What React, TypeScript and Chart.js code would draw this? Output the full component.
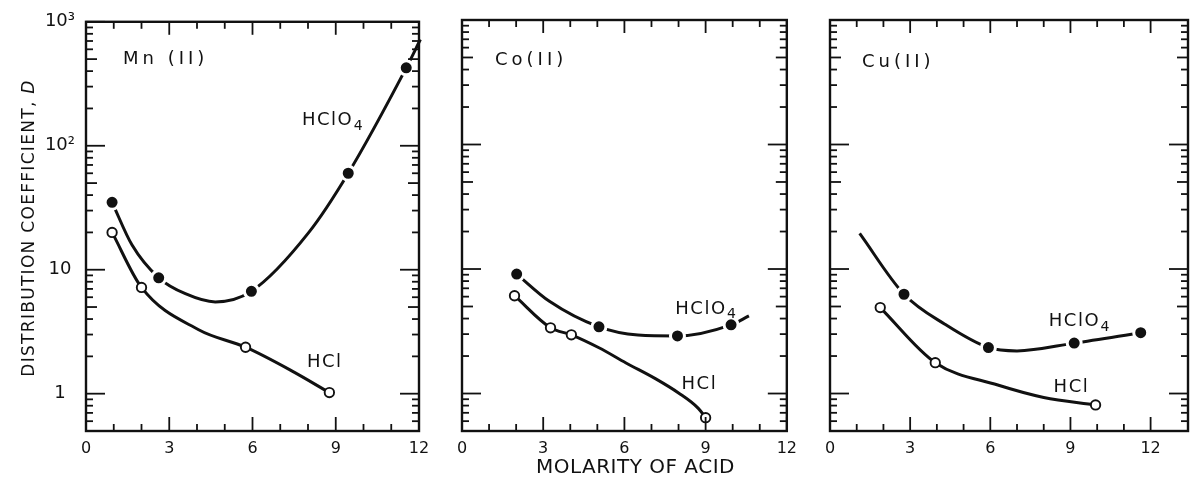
import React, { useEffect, useRef } from 'react';
import { Chart, registerables } from 'chart.js';

Chart.register(...registerables);

const FONT = '"DejaVu Sans", "Liberation Sans", sans-serif';
const INK = '#111';
const H = 482;

// ---- axis ticks ----
const xTickValues = [0, 1, 2, 3, 4, 5, 6, 7, 8, 9, 10, 11, 12];
const xLabeledTicks = [0, 3, 6, 9, 12];
const yTickValues = [0.5, 0.6, 0.7, 0.8, 0.9, 1, 2, 3, 4, 5, 6, 7, 8, 9, 10, 20, 30, 40, 50, 60, 70, 80, 90,
  100, 200, 300, 400, 500, 600, 700, 800, 900, 1000];
const yLabeledTicks = [1, 10, 100, 1000];
const yTickLabels = ['1', '10', '10²', '10³'];

// ---- texts ----
const panelNames = ['Mn (II)', 'Co(II)', 'Cu(II)'];
const acidLabels = ['HClO4', 'HCl'];
const yTitleMain = 'DISTRIBUTION COEFFICIENT, ';
const yTitleSymbol = 'D';
const xTitle = 'MOLARITY OF ACID';

// ---- Mn(II) ----
const mnHclo4X = [0.94, 2.62, 5.96, 9.45, 11.54];
const mnHclo4Y = [35, 8.6, 6.7, 60, 425];
const mnHclo4CurveX = [0.94, 1.66, 2.62, 3.58, 4.66, 5.96, 8.03, 9.45, 11.54, 12.05];
const mnHclo4CurveY = [35, 15.8, 8.6, 6.4, 5.5, 6.7, 20, 60, 425, 720];
const mnHclX = [0.94, 2.0, 5.75, 8.77];
const mnHclY = [20, 7.2, 2.37, 1.02];
const mnHclCurveX = [0.94, 2.0, 4.06, 5.75, 7.43, 8.77];
const mnHclCurveY = [20, 7.2, 3.28, 2.37, 1.52, 1.02];

// ---- Co(II) ----
const coHclo4X = [2.02, 5.06, 7.96, 9.94];
const coHclo4Y = [9.1, 3.43, 2.9, 3.56];
const coHclo4CurveX = [2.02, 3.23, 5.06, 6.5, 7.96, 9.94, 10.6];
const coHclo4CurveY = [9.1, 5.5, 3.43, 2.95, 2.9, 3.56, 4.2];
const coHclX = [1.94, 3.27, 4.04, 9.0];
const coHclY = [6.1, 3.37, 2.96, 0.64];
const coHclCurveX = [1.94, 3.27, 4.04, 5.06, 6.06, 7.16, 8.0, 8.73, 9.0];
const coHclCurveY = [6.1, 3.37, 2.96, 2.33, 1.76, 1.31, 1.01, 0.76, 0.64];

// ---- Cu(II) ----
const cuHclo4X = [2.77, 5.93, 9.14, 11.63];
const cuHclo4Y = [6.27, 2.34, 2.54, 3.08];
const cuHclo4CurveX = [1.11, 2.77, 4.3, 5.93, 7.0, 9.14, 11.63];
const cuHclo4CurveY = [19.3, 6.27, 3.6, 2.34, 2.2, 2.54, 3.08];
const cuHclX = [1.88, 3.94, 9.94];
const cuHclY = [4.9, 1.77, 0.81];
const cuHclCurveX = [1.88, 3.94, 6.28, 8.0, 9.94];
const cuHclCurveY = [4.9, 1.77, 1.17, 0.93, 0.81];

type PanelCfg = {
  name: string;
  hclo4X: number[]; hclo4Y: number[]; hclo4CurveX: number[]; hclo4CurveY: number[];
  hclX: number[]; hclY: number[]; hclCurveX: number[]; hclCurveY: number[];
  xMax: number;
  left: number; width: number; padLeft: number; padRight: number; yAxisWidth: number;
  showYLabels: boolean;
  nameOffset: { dx: number; dy: number };
  hclo4Label: { x: number; y: number };
  hclLabel: { x: number; y: number };
  yTitle: boolean; xTitle: boolean;
};

const panels: PanelCfg[] = [
  {
    name: panelNames[0],
    hclo4X: mnHclo4X, hclo4Y: mnHclo4Y, hclo4CurveX: mnHclo4CurveX, hclo4CurveY: mnHclo4CurveY,
    hclX: mnHclX, hclY: mnHclY, hclCurveX: mnHclCurveX, hclCurveY: mnHclCurveY,
    xMax: 12, left: 0, width: 440, padLeft: 0, padRight: 21, yAxisWidth: 86, showYLabels: true,
    nameOffset: { dx: 37, dy: 38 }, hclo4Label: { x: 7.78, y: 159 }, hclLabel: { x: 7.96, y: 1.8 },
    yTitle: true, xTitle: false,
  },
  {
    name: panelNames[1],
    hclo4X: coHclo4X, hclo4Y: coHclo4Y, hclo4CurveX: coHclo4CurveX, hclo4CurveY: coHclo4CurveY,
    hclX: coHclX, hclY: coHclY, hclCurveX: coHclCurveX, hclCurveY: coHclCurveY,
    xMax: 12, left: 440, width: 365, padLeft: 22, padRight: 16, yAxisWidth: 0, showYLabels: false,
    nameOffset: { dx: 33, dy: 40 }, hclo4Label: { x: 7.88, y: 4.75 }, hclLabel: { x: 8.11, y: 1.19 },
    yTitle: false, xTitle: true,
  },
  {
    name: panelNames[2],
    hclo4X: cuHclo4X, hclo4Y: cuHclo4Y, hclo4CurveX: cuHclo4CurveX, hclo4CurveY: cuHclo4CurveY,
    hclX: cuHclX, hclY: cuHclY, hclCurveX: cuHclCurveX, hclCurveY: cuHclCurveY,
    xMax: 13.4, left: 805, width: 393, padLeft: 25, padRight: 5, yAxisWidth: 0, showYLabels: false,
    nameOffset: { dx: 32, dy: 42 }, hclo4Label: { x: 8.19, y: 3.77 }, hclLabel: { x: 8.37, y: 1.12 },
    yTitle: false, xTitle: false,
  },
];

const pts = (xs: number[], ys: number[]) => xs.map((x, i) => ({ x, y: ys[i] }));

function drawChem(ctx: CanvasRenderingContext2D, text: string, x: number, y: number, size: number, spacing: number) {
  const m = text.match(/^(.*?)(\d+)$/);
  const main = m ? m[1] : text;
  const sub = m ? m[2] : '';
  (ctx as any).letterSpacing = spacing + 'px';
  ctx.font = `${size}px ${FONT}`;
  ctx.textAlign = 'left';
  ctx.textBaseline = 'middle';
  ctx.fillText(main, x, y);
  if (sub) {
    const w = ctx.measureText(main).width;
    ctx.font = `${Math.round(size * 0.75)}px ${FONT}`;
    ctx.fillText(sub, x + w + 0.5, y + size * 0.3);
  }
}

function buildConfig(p: PanelCfg): any {
  const frameTicks = {
    id: 'frameTicks',
    afterDatasetsDraw(chart: any) {
      const { ctx, chartArea: a } = chart;
      const xs = chart.scales.x;
      const ys = chart.scales.y;
      ctx.save();
      ctx.strokeStyle = INK;
      ctx.lineWidth = 1.8;
      const seg = (x1: number, y1: number, x2: number, y2: number) => {
        ctx.beginPath(); ctx.moveTo(x1, y1); ctx.lineTo(x2, y2); ctx.stroke();
      };
      for (const v of xTickValues) {
        const px = xs.getPixelForValue(v);
        const major = xLabeledTicks.includes(v);
        seg(px, a.bottom, px, a.bottom - (major ? 14 : 7));
        seg(px, a.top, px, a.top + (major ? 13 : 7));
      }
      for (const v of yTickValues) {
        const py = ys.getPixelForValue(v);
        const sig = v / Math.pow(10, Math.floor(Math.log10(v) + 1e-9));
        const len = Math.abs(sig - 1) < 1e-6 ? 19 : Math.abs(sig - 5) < 1e-6 ? 11 : 7;
        seg(a.left, py, a.left + len, py);
        seg(a.right, py, a.right - len, py);
      }
      ctx.lineWidth = 2.4;
      ctx.strokeRect(a.left, a.top, a.right - a.left, a.bottom - a.top);
      ctx.restore();
    },
  };

  const texts = {
    id: 'texts',
    afterDraw(chart: any) {
      const { ctx, chartArea: a } = chart;
      const xs = chart.scales.x;
      const ys = chart.scales.y;
      ctx.save();
      ctx.fillStyle = INK;
      // panel name
      (ctx as any).letterSpacing = '4px';
      ctx.font = `18px ${FONT}`;
      ctx.textAlign = 'left';
      ctx.textBaseline = 'middle';
      ctx.fillText(p.name, a.left + p.nameOffset.dx, a.top + p.nameOffset.dy);
      // series labels
      drawChem(ctx, acidLabels[0], xs.getPixelForValue(p.hclo4Label.x), ys.getPixelForValue(p.hclo4Label.y), 18, 1.5);
      drawChem(ctx, acidLabels[1], xs.getPixelForValue(p.hclLabel.x), ys.getPixelForValue(p.hclLabel.y), 18, 1.5);
      if (p.yTitle) {
        ctx.save();
        ctx.translate(30, 228);
        ctx.rotate(-Math.PI / 2);
        (ctx as any).letterSpacing = '1.3px';
        ctx.font = `17px ${FONT}`;
        const w1 = ctx.measureText(yTitleMain).width;
        ctx.font = `italic 17px ${FONT}`;
        const w2 = ctx.measureText(yTitleSymbol).width;
        const start = -(w1 + w2) / 2;
        ctx.textAlign = 'left';
        ctx.textBaseline = 'middle';
        ctx.font = `17px ${FONT}`;
        ctx.fillText(yTitleMain, start, 0);
        ctx.font = `italic 17px ${FONT}`;
        ctx.fillText(yTitleSymbol, start + w1, 0);
        ctx.restore();
      }
      if (p.xTitle) {
        (ctx as any).letterSpacing = '0.5px';
        ctx.font = `20px ${FONT}`;
        ctx.textAlign = 'center';
        ctx.textBaseline = 'middle';
        ctx.fillText(xTitle, (a.left + a.right) / 2 + 11, 468);
      }
      ctx.restore();
    },
  };

  const curve = (label: string, xs: number[], ys: number[]) => ({
    label, data: pts(xs, ys), borderColor: INK, borderWidth: 3, pointRadius: 0,
    cubicInterpolationMode: 'monotone', clip: false, fill: false,
  });

  return {
    type: 'line',
    data: {
      datasets: [
        {
          label: acidLabels[0] + ' points', data: pts(p.hclo4X, p.hclo4Y), showLine: false,
          pointRadius: 7, pointBackgroundColor: INK, pointBorderColor: '#fff', pointBorderWidth: 3, clip: false,
        },
        {
          label: acidLabels[1] + ' points', data: pts(p.hclX, p.hclY), showLine: false,
          pointRadius: 4.7, pointBackgroundColor: '#fff', pointBorderColor: INK, pointBorderWidth: 1.9, clip: false,
        },
        curve(acidLabels[0], p.hclo4CurveX, p.hclo4CurveY),
        curve(acidLabels[1], p.hclCurveX, p.hclCurveY),
      ],
    },
    options: {
      responsive: false,
      maintainAspectRatio: false,
      animation: false,
      devicePixelRatio: 1,
      events: [],
      layout: { padding: { left: p.padLeft, right: p.padRight, top: 20, bottom: 0 } },
      plugins: { legend: { display: false }, tooltip: { enabled: false }, title: { display: false } },
      scales: {
        x: {
          type: 'linear', min: 0, max: p.xMax,
          grid: { display: false, drawTicks: false }, border: { display: false },
          afterBuildTicks: (s: any) => { s.ticks = xTickValues.map((v) => ({ value: v })); },
          ticks: {
            autoSkip: false, maxRotation: 0, minRotation: 0, padding: 8, color: INK,
            font: { family: FONT, size: 16 },
            callback: (v: any) => (xLabeledTicks.includes(Number(v)) ? String(v) : ''),
          },
          afterFit: (s: any) => { s.height = 51; },
        },
        y: {
          type: 'logarithmic', min: 0.5, max: 1000,
          grid: { display: false, drawTicks: false }, border: { display: false },
          afterBuildTicks: (s: any) => { s.ticks = yTickValues.map((v) => ({ value: v })); },
          ticks: {
            display: p.showYLabels, autoSkip: false, crossAlign: 'center', padding: 11, color: INK,
            font: { family: FONT, size: 18 },
            callback: (v: any) => {
              const i = yLabeledTicks.indexOf(Number(v));
              return i >= 0 ? yTickLabels[i] : '';
            },
          },
          afterFit: (s: any) => { s.width = p.yAxisWidth; },
        },
      },
    },
    plugins: [frameTicks, texts],
  };
}

function Panel({ cfg }: { cfg: PanelCfg }) {
  const ref = useRef<HTMLCanvasElement>(null);
  useEffect(() => {
    if (!ref.current) return;
    const chart = new Chart(ref.current, buildConfig(cfg));
    return () => chart.destroy();
  }, [cfg]);
  return (
    <canvas
      ref={ref}
      width={cfg.width}
      height={H}
      style={{ position: 'absolute', left: cfg.left, top: 0, width: cfg.width, height: H, display: 'block' }}
    />
  );
}

export default function App() {
  return (
    <div style={{ position: 'absolute', left: 0, top: 0, width: 1198, height: H, background: '#fff', overflow: 'hidden' }}>
      {panels.map((p) => (
        <Panel key={p.name} cfg={p} />
      ))}
    </div>
  );
}
